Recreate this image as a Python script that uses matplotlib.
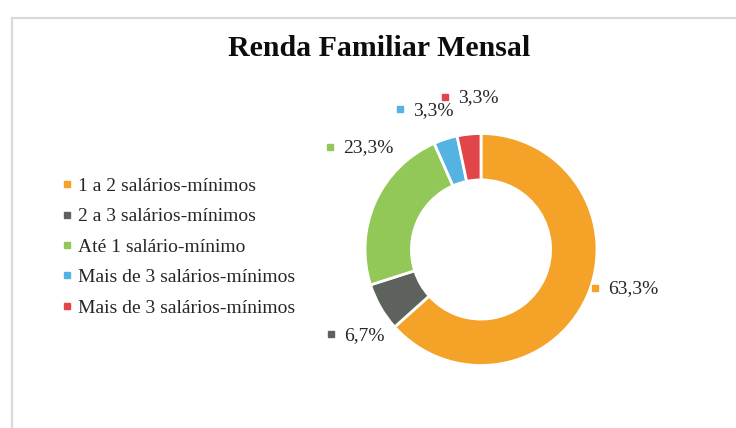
import matplotlib.pyplot as plt
from matplotlib.lines import Line2D
from matplotlib.patches import Rectangle

# data (slice order = clockwise from 12 o'clock)
categories = ["1 a 2 salários-mínimos", "2 a 3 salários-mínimos", "Até 1 salário-mínimo",
              "Mais de 3 salários-mínimos", "Mais de 3 salários-mínimos"]
values = [63.3, 6.7, 23.3, 3.3, 3.3]
colors = ["#F5A229", "#5E625C", "#92C857", "#54B3E0", "#E1454A"]
title = "Renda Familiar Mensal"

# layout: left edge of each value label, in pie-radius units
label_xy = [(1.095, -0.34), (-1.18, -0.74), (-1.19, 0.875), (-0.586, 1.20), (-0.198, 1.306)]

plt.rcParams["font.family"] = ["Liberation Serif", "DejaVu Serif"]

W, H = 736, 428
fig = plt.figure(figsize=(W / 100, H / 100), dpi=100)

# pie axes: centre (481, 249.5) px, radius 116 px, 1.5 radii each way
cx, cy, R = 481, 249.5, 116
side = 3 * R
ax = fig.add_axes([(cx - side / 2) / W, (H - cy - side / 2) / H, side / W, side / H])

ax.pie(values, colors=colors, startangle=90, counterclock=False, radius=1,
       wedgeprops=dict(width=0.4, edgecolor="white", linewidth=2))
ax.set_xlim(-1.5, 1.5)
ax.set_ylim(-1.5, 1.5)
ax.set_aspect("equal")
ax.axis("off")

off = 13 / R
for v, c, (lx, ly) in zip(values, colors, label_xy):
    txt = f"{v:.1f}".replace(".", ",") + "%"
    ax.text(lx, ly, txt, ha="left", va="center", fontsize=14, color="#262626", clip_on=False)
    ax.plot(lx - off, ly + 0.01, marker="s", ms=5, color=c, ls="none", clip_on=False)

fig.text(379.5 / W, 1 - 48 / H, title, ha="center", va="center",
         fontsize=21.5, fontweight="bold", color="#0D0D0D")

handles = [Line2D([], [], marker="s", ms=5, ls="none", color=c) for c in colors]
fig.legend(handles, categories, loc="center left", bbox_to_anchor=(62 / W, 1 - 247 / H),
           frameon=False, fontsize=14, handlelength=0.5, handletextpad=0.3,
           labelspacing=0.66, borderaxespad=0, borderpad=0, labelcolor="#262626")

fig.add_artist(Rectangle((12 / W, -0.1), 1.2, 1.1 - 18 / H, transform=fig.transFigure,
                         fill=False, ec="#D9D9D9", lw=1.6))

fig.savefig("out.png", dpi=100, facecolor="white")
